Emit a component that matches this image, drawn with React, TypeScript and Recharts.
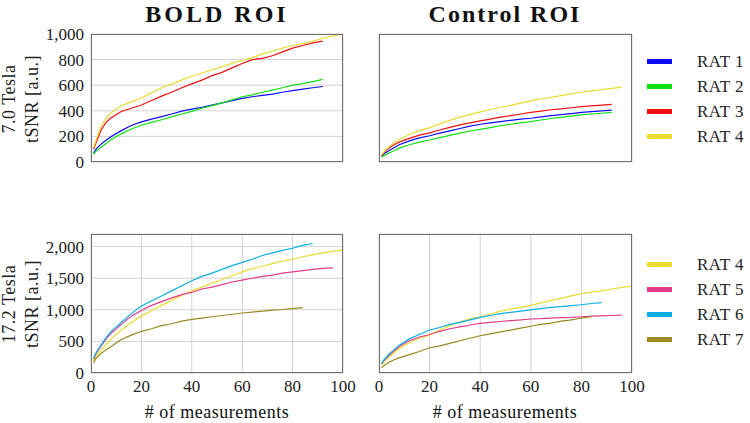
import { LineChart, Line, XAxis, YAxis, CartesianGrid } from "recharts";

// measurement indices shared by every series
const measurements = [1, 2, 4, 6, 8, 12, 16, 20, 24, 28, 32, 36, 40, 44, 48, 52, 56, 60, 64, 68, 72, 76, 80, 84, 88, 92, 96, 100];
const xTicks = [0, 20, 40, 60, 80, 100];
const yTicks7 = [0, 200, 400, 600, 800, 1000];
const yTicks17 = [0, 500, 1000, 1500, 2000];

// 7.0 Tesla, BOLD ROI
const bold7Rat1 = [70, 100, 140, 170, 200, 245, 285, 313, 335, 355, 375, 398, 413, 428, 445, 462, 480, 497, 510, 520, 530, 545, 558, 570, 580, 590];
const bold7Rat2 = [60, 85, 115, 145, 175, 220, 258, 287, 310, 330, 352, 375, 395, 420, 440, 462, 485, 510, 525, 545, 562, 580, 600, 612, 628, 645];
const bold7Rat3 = [100, 150, 250, 310, 345, 395, 420, 445, 480, 515, 545, 580, 610, 640, 675, 700, 735, 770, 800, 810, 830, 860, 890, 910, 930, 945];
const bold7Rat4 = [110, 170, 280, 340, 385, 440, 470, 500, 540, 580, 610, 640, 670, 695, 720, 745, 770, 795, 815, 845, 865, 890, 910, 925, 945, 965, 985, 1000];

// 7.0 Tesla, control ROI
const ctrl7Rat1 = [45, 65, 90, 112, 135, 165, 188, 205, 225, 243, 262, 280, 295, 305, 315, 325, 335, 342, 352, 362, 370, 378, 387, 393, 400, 405];
const ctrl7Rat2 = [38, 50, 70, 88, 108, 135, 155, 172, 190, 208, 225, 242, 255, 268, 283, 295, 306, 316, 328, 340, 348, 358, 368, 375, 381, 387];
const ctrl7Rat3 = [50, 75, 110, 135, 155, 185, 210, 228, 250, 270, 290, 305, 321, 335, 350, 362, 375, 387, 398, 408, 415, 424, 432, 438, 445, 450];
const ctrl7Rat4 = [55, 80, 120, 150, 175, 215, 245, 268, 298, 325, 350, 372, 392, 410, 428, 442, 460, 479, 492, 505, 518, 532, 545, 555, 565, 575, 585];

// 17.2 Tesla, BOLD ROI
const bold17Rat4 = [190, 270, 360, 450, 540, 680, 800, 900, 990, 1070, 1150, 1230, 1300, 1360, 1420, 1480, 1540, 1600, 1650, 1690, 1730, 1770, 1800, 1840, 1870, 1900, 1925, 1950];
const bold17Rat5 = [220, 310, 430, 540, 630, 770, 900, 990, 1070, 1130, 1190, 1240, 1275, 1330, 1360, 1400, 1440, 1470, 1500, 1530, 1550, 1580, 1600, 1620, 1640, 1655, 1665];
const bold17Rat6 = [230, 320, 440, 560, 660, 800, 940, 1060, 1140, 1220, 1300, 1380, 1460, 1530, 1580, 1640, 1700, 1750, 1800, 1860, 1900, 1940, 1975, 2020, 2050];
const bold17Rat7 = [160, 230, 310, 370, 420, 530, 600, 660, 700, 750, 780, 820, 850, 870, 890, 910, 930, 950, 965, 980, 995, 1005, 1020, 1035];

// 17.2 Tesla, control ROI
const ctrl17Rat4 = [130, 180, 250, 320, 390, 480, 550, 600, 680, 750, 810, 860, 890, 930, 980, 1010, 1040, 1070, 1110, 1150, 1180, 1220, 1255, 1280, 1300, 1330, 1355, 1375];
const ctrl17Rat5 = [145, 200, 280, 350, 420, 510, 570, 610, 660, 700, 730, 760, 785, 800, 815, 830, 840, 855, 860, 870, 875, 880, 890, 900, 905, 910, 915];
const ctrl17Rat6 = [150, 210, 300, 370, 440, 540, 610, 680, 720, 770, 800, 840, 880, 910, 940, 960, 980, 1000, 1020, 1040, 1050, 1065, 1080, 1100, 1115];
const ctrl17Rat7 = [80, 120, 170, 210, 240, 290, 340, 400, 430, 470, 510, 550, 590, 620, 650, 680, 710, 740, 770, 790, 820, 840, 870, 890];

const COLORS = {
  rat1: "#0c0cf2",
  rat2: "#12e012",
  rat3: "#f01010",
  rat4: "#ebdc32",
  rat5: "#e33c8a",
  rat6: "#0aaee6",
  rat7: "#988a20",
};

type Series = { key: string; name: string; color: string; values: number[] };

const FONT = "'Liberation Serif', 'Times New Roman', serif";

function buildRows(series: Series[]) {
  return measurements.map((m, i) => {
    const row: Record<string, number> = { m };
    series.forEach((s) => {
      if (i < s.values.length) row[s.key] = s.values[i];
    });
    return row;
  });
}

const fmt = (v: number) => v.toLocaleString("en-US");

interface PanelProps {
  left: number;
  top: number;
  width: number;
  height: number;
  series: Series[];
  yMax: number;
  yTicks: number[];
  showX: boolean;
  showY: boolean;
}

function Panel({ left, top, width, height, series, yMax, yTicks, showX, showY }: PanelProps) {
  const yw = 60;
  const xh = 30;
  const pad = 12;
  const tick = { fontSize: 17, fill: "#222", fontFamily: FONT };
  return (
    <div style={{ position: "absolute", left: left - yw, top: top - pad }}>
      <LineChart
        width={width + yw + 24}
        height={height + xh + pad}
        data={buildRows(series)}
        margin={{ top: pad, right: 24, left: 0, bottom: 0 }}
      >
        <CartesianGrid stroke="#d2d2d2" strokeWidth={1} />
        <XAxis
          dataKey="m"
          type="number"
          domain={[0, 100]}
          ticks={xTicks}
          interval={0}
          height={xh}
          tick={showX ? tick : false}
          tickLine={false}
          axisLine={false}
          tickSize={0}
          tickMargin={7}
        />
        <YAxis
          type="number"
          domain={[0, yMax]}
          ticks={yTicks}
          interval={0}
          width={yw}
          tick={showY ? tick : false}
          tickFormatter={fmt}
          tickLine={false}
          axisLine={false}
          tickSize={0}
          tickMargin={7}
        />
        {series.map((s) => (
          <Line
            key={s.key}
            dataKey={s.key}
            name={s.name}
            stroke={s.color}
            strokeWidth={1.2}
            dot={false}
            type="linear"
            isAnimationActive={false}
          />
        ))}
      </LineChart>
      <div
        style={{
          position: "absolute",
          left: yw,
          top: pad,
          width,
          height,
          boxSizing: "border-box",
          border: "1px solid #707070",
          pointerEvents: "none",
        }}
      />
    </div>
  );
}

function LegendBox({ left, top, series }: { left: number; top: number; series: Series[] }) {
  return (
    <div style={{ position: "absolute", left, top }}>
      {series.map((s) => (
        <div key={s.key} style={{ display: "flex", alignItems: "center", height: 25 }}>
          <div style={{ width: 25, height: 5, background: s.color }} />
          <div style={{ marginLeft: 25, fontSize: 17, letterSpacing: 0.5, fontFamily: FONT, color: "#222" }}>{s.name}</div>
        </div>
      ))}
    </div>
  );
}

function YLabel({ x, y, lines }: { x: number; y: number; lines: string[] }) {
  return (
    <div
      style={{
        position: "absolute",
        left: x,
        top: y,
        transform: "translate(-50%, -50%) rotate(-90deg)",
        textAlign: "center",
        whiteSpace: "nowrap",
        fontSize: 18,
        letterSpacing: 0.5,
        lineHeight: "23px",
        fontFamily: FONT,
        color: "#222",
      }}
    >
      {lines.map((l) => (
        <div key={l}>{l}</div>
      ))}
    </div>
  );
}

function Centered({ x, y, text, size, bold, spacing }: { x: number; y: number; text: string; size: number; bold?: boolean; spacing?: number }) {
  return (
    <div
      style={{
        position: "absolute",
        left: x,
        top: y,
        transform: "translate(-50%, -50%)",
        whiteSpace: "nowrap",
        fontSize: size,
        fontWeight: bold ? 700 : 400,
        letterSpacing: spacing ?? 0,
        fontFamily: FONT,
        color: "#111",
      }}
    >
      {text}
    </div>
  );
}

export default function App() {
  const bold7: Series[] = [
    { key: "r1", name: "RAT 1", color: COLORS.rat1, values: bold7Rat1 },
    { key: "r2", name: "RAT 2", color: COLORS.rat2, values: bold7Rat2 },
    { key: "r3", name: "RAT 3", color: COLORS.rat3, values: bold7Rat3 },
    { key: "r4", name: "RAT 4", color: COLORS.rat4, values: bold7Rat4 },
  ];
  const ctrl7: Series[] = [
    { key: "r1", name: "RAT 1", color: COLORS.rat1, values: ctrl7Rat1 },
    { key: "r2", name: "RAT 2", color: COLORS.rat2, values: ctrl7Rat2 },
    { key: "r3", name: "RAT 3", color: COLORS.rat3, values: ctrl7Rat3 },
    { key: "r4", name: "RAT 4", color: COLORS.rat4, values: ctrl7Rat4 },
  ];
  const bold17: Series[] = [
    { key: "r4", name: "RAT 4", color: COLORS.rat4, values: bold17Rat4 },
    { key: "r5", name: "RAT 5", color: COLORS.rat5, values: bold17Rat5 },
    { key: "r6", name: "RAT 6", color: COLORS.rat6, values: bold17Rat6 },
    { key: "r7", name: "RAT 7", color: COLORS.rat7, values: bold17Rat7 },
  ];
  const ctrl17: Series[] = [
    { key: "r4", name: "RAT 4", color: COLORS.rat4, values: ctrl17Rat4 },
    { key: "r5", name: "RAT 5", color: COLORS.rat5, values: ctrl17Rat5 },
    { key: "r6", name: "RAT 6", color: COLORS.rat6, values: ctrl17Rat6 },
    { key: "r7", name: "RAT 7", color: COLORS.rat7, values: ctrl17Rat7 },
  ];

  return (
    <div style={{ position: "absolute", left: 0, top: 0, width: 750, height: 423, background: "#fff" }}>
      <Centered x={217} y={14} text="BOLD ROI" size={24} bold spacing={3} />
      <Centered x={505} y={14} text="Control ROI" size={24} bold spacing={2} />

      <Panel left={91} top={34} width={252} height={128} series={bold7} yMax={1000} yTicks={yTicks7} showX={false} showY />
      <Panel left={379} top={34} width={253} height={128} series={ctrl7} yMax={1000} yTicks={yTicks7} showX={false} showY={false} />
      <Panel left={91} top={234} width={252} height={139} series={bold17} yMax={2200} yTicks={yTicks17} showX showY />
      <Panel left={379} top={234} width={253} height={139} series={ctrl17} yMax={2200} yTicks={yTicks17} showX showY={false} />

      <YLabel x={21} y={99} lines={["7.0 Tesla", "tSNR [a.u.]"]} />
      <YLabel x={21} y={304} lines={["17.2 Tesla", "tSNR [a.u.]"]} />

      <LegendBox left={647} top={49} series={bold7} />
      <LegendBox left={647} top={252} series={bold17} />

      <Centered x={217} y={412} text="# of measurements" size={18} spacing={0.5} />
      <Centered x={505} y={412} text="# of measurements" size={18} spacing={0.5} />
    </div>
  );
}
